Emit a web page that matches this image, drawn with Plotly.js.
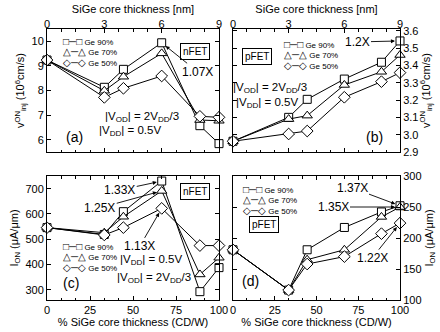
<!DOCTYPE html>
<html>
<head>
<meta charset="utf-8">
<script src="https://cdn.plot.ly/plotly-3.0.1.min.js"></script>
<style>html,body{margin:0;padding:0;background:#fff;}#chart{width:440px;height:332px;}</style>
</head>
<body>
<div id="chart"></div>
<script>
// ---- data ----
const thicknessNm = [0, 3, 4, 6, 8, 9];
const percentCDW = [0, 33.3, 44.4, 66.7, 88.9, 100];
const seriesNames = ['Ge 90%', 'Ge 70%', 'Ge 50%'];
const legendGlyphs = ['\u25A1\u2500\u25A1', '\u25B3\u2500\u25B3', '\u25C7\u2500\u25C7'];

// (a) nFET injection velocity (10^6 cm/s)
const nfetVinj90 = [9.24, 8.13, 8.86, 9.94, 6.57, 5.84];
const nfetVinj70 = [9.24, 7.99, 8.56, 9.51, 6.80, 6.77];
const nfetVinj50 = [9.24, 7.72, 8.09, 8.59, 6.95, 6.91];
// (b) pFET injection velocity (10^6 cm/s)
const pfetVinj90 = [2.962, 3.10, 3.204, 3.321, 3.418, 3.541];
const pfetVinj70 = [2.962, 3.09, 3.11, 3.287, 3.363, 3.46];
const pfetVinj50 = [2.962, 3.004, 3.021, 3.216, 3.306, 3.358];
// (c) nFET ON current (uA/um)
const nfetIon90 = [546, 519, 609, 730, 293, 388];
const nfetIon70 = [546, 526, 589, 691, 361, 427];
const nfetIon50 = [546, 517, 546, 622, 475, 475];
// (d) pFET ON current (uA/um)
const pfetIon90 = [181, 116, 181, 217, 242, 252];
const pfetIon70 = [181, 116, 165, 181, 234, 250];
const pfetIon50 = [181, 116, 158, 170, 207, 224];

const topTicks = [0, 3, 6, 9];
const bottomTicks = [0, 25, 50, 75, 100];

// ---- styling ----
const FONT = 'Liberation Sans, Arial, Helvetica, sans-serif';
const symbols = ['square', 'triangle-up', 'diamond'];
const sizes = [8, 9, 9];

function mk(x, y, i, xa, ya) {
  return {
    x: x, y: y, name: seriesNames[i], type: 'scatter', mode: 'lines+markers',
    xaxis: xa, yaxis: ya, showlegend: false, cliponaxis: false,
    line: {color: '#000', width: 1},
    marker: {symbol: symbols[i], size: sizes[i], color: '#fff', line: {color: '#000', width: 1}}
  };
}

const traces = [
  mk(thicknessNm, nfetVinj90, 0, 'x', 'y'),
  mk(thicknessNm, nfetVinj70, 1, 'x', 'y'),
  mk(thicknessNm, nfetVinj50, 2, 'x', 'y'),
  mk(thicknessNm, pfetVinj90, 0, 'x2', 'y2'),
  mk(thicknessNm, pfetVinj70, 1, 'x2', 'y2'),
  mk(thicknessNm, pfetVinj50, 2, 'x2', 'y2'),
  mk(percentCDW, nfetIon90, 0, 'x3', 'y3'),
  mk(percentCDW, nfetIon70, 1, 'x3', 'y3'),
  mk(percentCDW, nfetIon50, 2, 'x3', 'y3'),
  mk(percentCDW, pfetIon90, 0, 'x4', 'y4'),
  mk(percentCDW, pfetIon70, 1, 'x4', 'y4'),
  mk(percentCDW, pfetIon50, 2, 'x4', 'y4')
];

const W = 440, H = 332;
const px = v => v / W;
const py = v => 1 - v / H;
const dLeft = [px(47), px(219)];
const dRight = [px(233), px(400)];
const dTop = [py(152), py(29)];
const dBot = [py(300), py(176)];

const tickFont = {family: FONT, size: 11, color: '#000'};
const titleFont = {family: FONT, size: 11, color: '#000'};

function ax(extra) {
  return Object.assign({
    showline: true, linecolor: '#000', linewidth: 1, mirror: 'ticks',
    ticks: 'inside', ticklen: 4, tickcolor: '#000', tickwidth: 1,
    showgrid: false, zeroline: false, tickfont: tickFont, fixedrange: true
  }, extra);
}

const xTop = (dom, anchor) => ax({
  domain: dom, anchor: anchor, side: 'top', range: [0, 9],
  tickmode: 'array', tickvals: topTicks, ticktext: topTicks.map(String),
  ticklabelstandoff: -4,
  minor: {dtick: 0.75, ticks: 'inside', ticklen: 2.5, tickcolor: '#000', showgrid: false},
  title: {text: 'SiGe core thickness [nm]', font: titleFont, standoff: 1}
});
const xBot = (dom, anchor) => ax({
  domain: dom, anchor: anchor, side: 'bottom', range: [0, 100],
  tickmode: 'array', tickvals: bottomTicks, ticktext: bottomTicks.map(String),
  minor: {dtick: 25 / 3, ticks: 'inside', ticklen: 2.5, tickcolor: '#000', showgrid: false},
  title: {text: '% SiGe core thickness (CD/W)', font: titleFont, standoff: 3}
});

const vTitle = 'v<sup>ON</sup><sub>inj</sub> (10<sup>6</sup>cm/s)';
const iTitle = 'I<sub>ON</sub> (\u03BCA/\u03BCm)';

const layout = {
  width: W, height: H,
  margin: {l: 0, r: 0, t: 0, b: 0},
  paper_bgcolor: '#fff', plot_bgcolor: '#fff',
  font: {family: FONT, size: 11, color: '#000'},
  showlegend: false,
  xaxis: xTop(dLeft, 'y'),
  yaxis: ax({domain: dTop, anchor: 'x', range: [5.5, 10.5], dtick: 1, title: {text: vTitle, font: titleFont, standoff: 4}}),
  xaxis2: xTop(dRight, 'y2'),
  yaxis2: ax({domain: dTop, anchor: 'x2', side: 'right', range: [2.9, 3.61], dtick: 0.1, tickformat: '.1f', title: {text: vTitle, font: titleFont, standoff: 4}}),
  xaxis3: xBot(dLeft, 'y3'),
  yaxis3: ax({domain: dBot, anchor: 'x3', range: [260, 750], dtick: 100, title: {text: iTitle, font: titleFont, standoff: 4}}),
  xaxis4: xBot(dRight, 'y4'),
  yaxis4: ax({domain: dBot, anchor: 'x4', side: 'right', range: [100, 300], dtick: 50, title: {text: iTitle, font: titleFont, standoff: 4}}),
  annotations: []
};

const A = layout.annotations;
function paperText(text, x, y, size, opts) {
  A.push(Object.assign({text: text, xref: 'paper', yref: 'paper', x: px(x), y: py(y),
    showarrow: false, font: {family: FONT, size: size, color: '#000'}}, opts || {}));
}
function boxText(text, x, y) {
  paperText(text, x, y, 10, {bordercolor: '#000', borderwidth: 1, borderpad: 2, bgcolor: '#fff'});
}
function arrowText(text, xr, yr, x, y, axp, ayp) {
  A.push({text: text, xref: xr, yref: yr, x: x, y: y, ax: axp, ay: ayp, showarrow: true,
    arrowhead: 2, arrowsize: 0.9, arrowwidth: 0.9, arrowcolor: '#000', standoff: 5,
    font: {family: FONT, size: 12, color: '#000'}});
}
function legendBlock(x, yTop) {
  const lines = seriesNames.map((n, i) => '<span style="font-size:10px">' + legendGlyphs[i] + '</span> ' + n);
  paperText(lines.join('<br>'), x, yTop, 8, {xanchor: 'left', yanchor: 'top', align: 'left'});
}
const vod = '|V<sub>OD</sub>| = 2V<sub>DD</sub>/3';
const vdd = '|V<sub>DD</sub>| = 0.5V';

// (a)
boxText('nFET', 195, 43);
arrowText('1.07X', 'x', 'y', thicknessNm[3], nfetVinj90[3], 36, 29);
paperText(vod, 103, 117, 11.5);
paperText(vdd, 97, 131, 11.5);
paperText('(a)', 63.5, 137, 14);
legendBlock(61, 34);
// (b)
boxText('pFET', 257, 47.5);
arrowText('1.2X', 'x2', 'y2', thicknessNm[5], pfetVinj90[5], -43, 1);
paperText(vod, 270, 79, 11.5);
paperText(vdd, 267, 94, 11.5);
paperText('(b)', 385, 137, 14);
legendBlock(282, 36.5);
// (c)
boxText('nFET', 195, 191.5);
arrowText('1.33X', 'x3', 'y3', percentCDW[3], nfetIon90[3], -42, 9);
arrowText('1.25X', 'x3', 'y3', percentCDW[3], nfetIon70[3], -62, 17);
arrowText('1.13X', 'x3', 'y3', percentCDW[3], nfetIon50[3], -22, 38);
paperText(vdd, 151, 269, 11.5);
paperText(vod, 154, 287, 11.5);
paperText('(c)', 61, 293, 14);
legendBlock(61, 239);
// (d)
boxText('pFET', 263.5, 232.5);
arrowText('1.37X', 'x4', 'y4', percentCDW[5], pfetIon90[5], -48, -18);
arrowText('1.35X', 'x4', 'y4', percentCDW[5], pfetIon70[5], -67, 0);
arrowText('1.22X', 'x4', 'y4', percentCDW[5], pfetIon50[5], -28, 35);
paperText('(d)', 250, 291, 14);
legendBlock(241, 182);

Plotly.newPlot('chart', traces, layout, {staticPlot: true, displayModeBar: false});
</script>
</body>
</html>
